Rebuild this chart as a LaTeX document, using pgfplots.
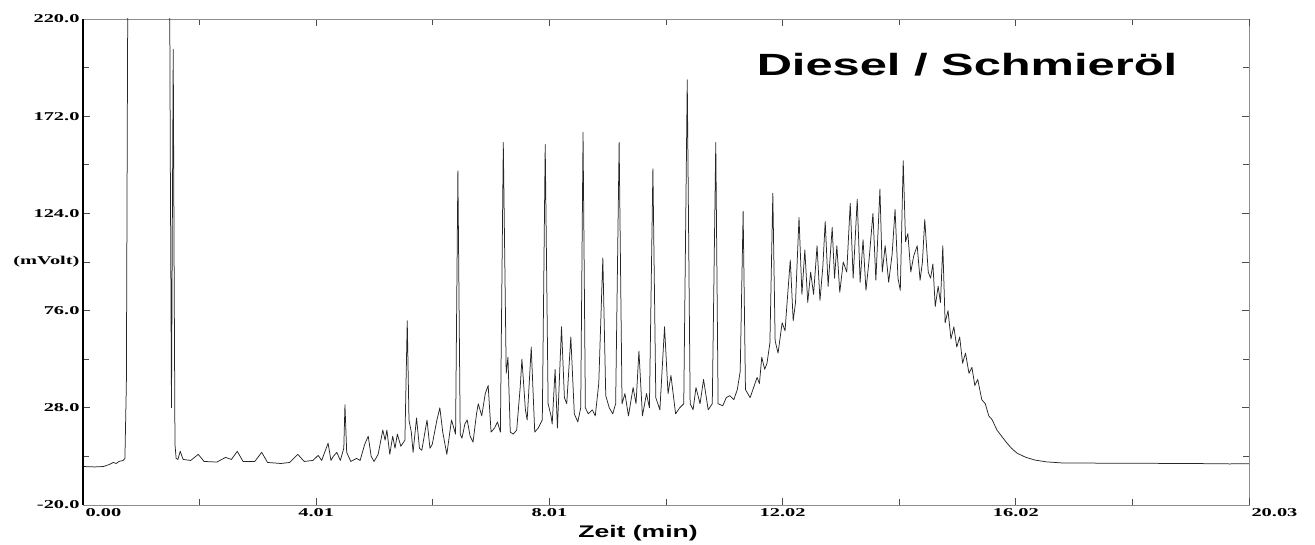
\documentclass[border=0pt]{standalone}
\usepackage{fontspec}
\setmainfont{Liberation Serif}
\newfontfamily\sansb{Liberation Sans}
\usepackage{graphicx}
\usepackage{pgfplots}
\pgfplotsset{compat=1.18}
\newcommand{\tl}[1]{\scalebox{1.7}[1]{#1}}
\begin{document}
\begin{tikzpicture}
\path[use as bounding box] (0,0) rectangle (1315pt,545pt);
\begin{axis}[
  name=ax,
  at={(83pt,40pt)}, anchor=south west,
  width=1166pt, height=486pt, scale only axis,
  xmin=0, xmax=20.03, ymin=-20, ymax=220,
  xtick={4.006,8.012,12.018,16.024},
  xticklabels={\tl{4.01},\tl{8.01},\tl{12.02},\tl{16.02}},
  extra x ticks={0,20.03},
  extra x tick labels={\tl{0.00},\tl{20.03}},
  extra x tick style={xticklabel style={anchor=north west, xshift=-1pt}},
  minor xtick={2.003,6.009,10.015,14.021,18.027},
  ytick={-20,28,76,100,124,172,220},
  yticklabels={\tl{-20.0},\tl{28.0},\tl{76.0},\tl{(mVolt)},\tl{124.0},\tl{172.0},\tl{220.0}},
  minor ytick={4,52,148,196},
  tick label style={font=\fontsize{12}{14}\selectfont\bfseries},
  major tick length=7pt, minor tick length=6pt,
  tick style={black!70, line width=0.8pt},
  axis line style={black!45, line width=0.8pt},
  clip=true,
]
\addplot[black!85, line width=0.75pt, line join=round, mark=none] coordinates {
(0.00,-1.0) (0.20,-1.2) (0.35,-1.0) (0.45,0.0) (0.52,1.0) (0.57,0.5) (0.62,1.5) (0.69,2.0)
(0.72,3) (0.745,40) (0.765,200) (0.78,300) (0.82,300) (1.48,300) (1.50,150) (1.52,28) (1.535,120)
(1.55,205) (1.565,100) (1.58,10) (1.60,3)
(1.63,2.5) (1.67,6.5) (1.72,2.5) (1.85,2.0) (1.98,5.0) (2.08,1.5) (2.30,1.2) (2.45,3.5)
(2.55,2.5) (2.65,6.5) (2.75,1.5) (2.95,1.5) (3.07,6.0) (3.17,1.0) (3.40,0.5) (3.55,1.0)
(3.69,5.0) (3.80,1.5) (3.95,2.0) (4.04,4.5) (4.10,2.0) (4.21,10.5) (4.26,2.0) (4.30,4)
(4.36,6) (4.42,2.0) (4.48,8) (4.50,29.5) (4.53,6) (4.60,1.5) (4.70,3) (4.76,2)
(4.84,10) (4.90,14) (4.95,4) (5.00,1.5) (5.07,5) (5.15,17) (5.19,12) (5.22,17)
(5.27,5) (5.32,14) (5.36,8) (5.40,15) (5.46,9) (5.53,12) (5.57,71) (5.60,22)
(5.64,16) (5.67,6) (5.73,23) (5.78,8) (5.82,7) (5.91,22) (5.96,8) (6.00,10)
(6.08,22) (6.13,28) (6.18,16) (6.25,5) (6.33,22) (6.40,15) (6.44,145) (6.48,15)
(6.51,13) (6.56,20) (6.60,22) (6.65,14) (6.70,11) (6.76,25) (6.79,30) (6.85,24)
(6.91,35) (6.96,39) (7.01,16) (7.07,18) (7.12,21) (7.17,16) (7.22,159) (7.27,45)
(7.30,53) (7.34,16) (7.39,15) (7.45,17) (7.51,38) (7.54,52) (7.60,27) (7.63,22)
(7.70,58) (7.76,16) (7.82,18) (7.89,22) (7.94,158) (7.99,30) (8.04,24) (8.06,20)
(8.11,47) (8.15,18) (8.22,68) (8.27,33) (8.31,30) (8.38,63) (8.44,25) (8.50,21)
(8.55,28) (8.59,164) (8.63,28) (8.68,25) (8.75,27) (8.80,24) (8.86,40) (8.93,102)
(8.98,34) (9.04,28) (9.10,25) (9.15,30) (9.21,159) (9.26,30) (9.31,35) (9.37,24)
(9.45,38) (9.50,30) (9.55,56) (9.61,24) (9.68,35) (9.73,28) (9.79,146) (9.84,33)
(9.91,27) (9.99,68) (10.05,35) (10.10,44) (10.18,25) (10.25,28) (10.32,30) (10.38,190)
(10.43,30) (10.48,27) (10.53,38) (10.60,30) (10.66,42) (10.74,27) (10.81,30) (10.87,159)
(10.91,30) (10.99,29) (11.05,33) (11.11,34) (11.18,32) (11.24,37) (11.29,46) (11.34,125)
(11.38,37) (11.46,33) (11.52,38) (11.58,43) (11.62,40) (11.66,53) (11.71,47) (11.75,50)
(11.80,60) (11.85,134) (11.89,61) (11.94,55) (12.01,70) (12.06,66) (12.09,78) (12.15,101)
(12.20,71) (12.24,80) (12.30,122) (12.35,84) (12.40,106) (12.45,80) (12.50,95) (12.55,84)
(12.61,108) (12.66,81) (12.71,98) (12.75,120) (12.80,88) (12.87,117) (12.91,92) (12.95,108)
(13.00,85) (13.06,100) (13.12,95) (13.18,129) (13.23,92) (13.30,131) (13.35,90) (13.40,111)
(13.45,86) (13.50,100) (13.57,124) (13.62,91) (13.69,136) (13.73,95) (13.78,108) (13.84,90)
(13.90,104) (13.95,126) (14.00,92) (14.04,86) (14.09,150) (14.13,110) (14.17,114) (14.22,95)
(14.27,103) (14.33,108) (14.38,91) (14.42,100) (14.46,121) (14.52,95) (14.56,92) (14.60,99)
(14.64,78) (14.69,88) (14.73,80) (14.77,108) (14.81,70) (14.86,76) (14.91,62) (14.96,68)
(15.01,58) (15.06,63) (15.11,50) (15.16,55) (15.22,45) (15.27,48) (15.32,39) (15.37,42)
(15.44,32) (15.50,30) (15.56,24) (15.62,22) (15.70,17) (15.78,14) (15.86,11) (15.95,8)
(16.05,5.5) (16.20,3.5) (16.35,2.2) (16.55,1.3) (16.80,0.8) (17.20,0.7) (18.00,0.6) (19.00,0.5)
(19.70,0.3) (20.03,0.4)
};
\end{axis}
\draw[black, line width=1.5pt] (ax.south west) -- (ax.north west);
\node[anchor=base] at (967pt,469pt) {\fontsize{30.7}{34}\selectfont\sansb\bfseries\scalebox{1.59}[1]{Diesel / Schmieröl}};
\node[anchor=base] at (638pt,7pt) {\fontsize{16.8}{19}\selectfont\sansb\bfseries\scalebox{1.58}[1]{Zeit (min)}};
\end{tikzpicture}
\end{document}
